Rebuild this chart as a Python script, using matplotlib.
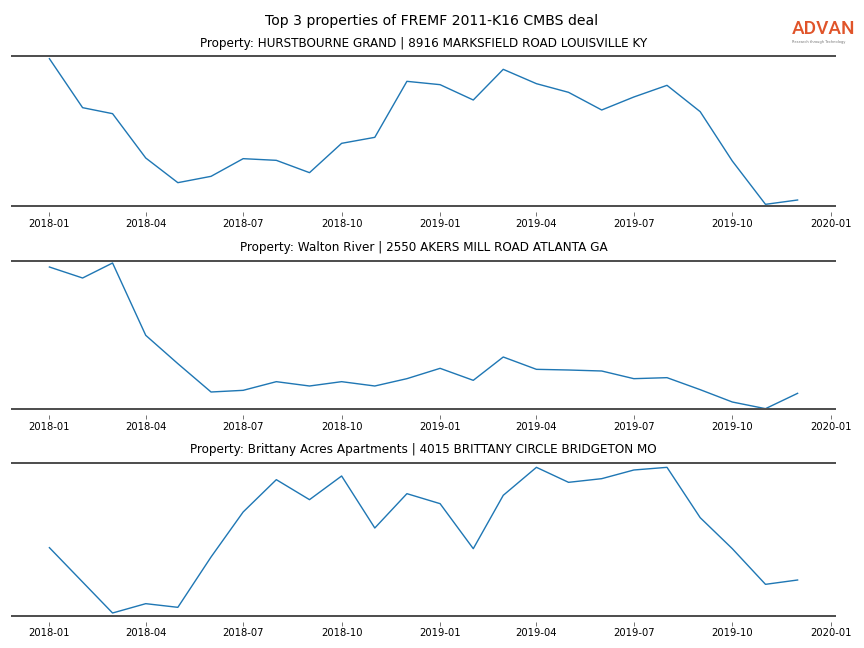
import numpy as np
import pandas as pd
import matplotlib
matplotlib.use('Agg')
import matplotlib.pyplot as plt
import matplotlib.dates as mdates

# monthly foot traffic index per property
months = pd.date_range('2018-01-01', '2019-12-01', freq='MS')

titles = [
    'Property: HURSTBOURNE GRAND | 8916 MARKSFIELD ROAD LOUISVILLE KY',
    'Property: Walton River | 2550 AKERS MILL ROAD ATLANTA GA',
    'Property: Brittany Acres Apartments | 4015 BRITTANY CIRCLE BRIDGETON MO',
]

hurstbourne = [442, 295, 277, 144, 70, 89, 142, 137, 100, 188, 206, 374,
               364, 318, 410, 367, 341, 288, 327, 362, 283, 135, 5, 18]
walton = [426, 393, 438, 221, 136, 51, 56, 82, 69, 82, 69, 91,
          122, 86, 156, 119, 117, 114, 91, 94, 58, 21, 1, 47]
brittany = [205, 102, 9, 37, 26, 177, 312, 409, 349, 420, 264, 367,
            337, 202, 362, 446, 401, 412, 438, 446, 295, 202, 95, 108]

series = [hurstbourne, walton, brittany]
ylims = [(0, 450), (0, 444), (0, 459)]

W, H = 864, 648
# panel top/bottom in pixels
rows = [(56, 206), (261, 409), (463, 616)]

fig = plt.figure(figsize=(12, 9), dpi=72)
fig.suptitle('Top 3 properties of FREMF 2011-K16 CMBS deal', fontsize=14, y=0.979)

for (top, bot), vals, title, yl in zip(rows, series, titles, ylims):
    ax = fig.add_axes([12 / W, 1 - bot / H, (835 - 12) / W, (bot - top) / H])
    ax.plot(months, vals, color='#1f77b4', lw=1.4)
    ax.set_ylim(*yl)
    ax.margins(x=0.05)
    ax.set_title(title, fontsize=12, pad=9.5)
    # only top/bottom rules, ticks sit a little below the rule
    for s in ['left', 'right', 'top']:
        ax.spines[s].set_visible(False)
    ax.spines['bottom'].set_position(('outward', 6))
    ax.spines['bottom'].set_visible(False)
    ax.axhline(yl[0], color='#505050', lw=2, clip_on=False)
    ax.axhline(yl[1], color='#505050', lw=2, clip_on=False)
    ax.set_yticks([])
    ax.xaxis.set_major_locator(mdates.MonthLocator(bymonth=[1, 4, 7, 10]))
    ax.xaxis.set_major_formatter(mdates.DateFormatter('%Y-%m'))
    ax.tick_params(axis='x', length=3.5, width=0.8, color='#555555', labelsize=10, pad=3)

# logo
fig.text(0.9165, 0.9475, 'ADVAN', family='Roboto', fontweight='medium', fontsize=19,
         color='#e0542a', ha='left', va='baseline')
fig.text(0.9165, 0.9385, 'Research through Technology', fontsize=3.6, color='#777777',
         ha='left', va='top')

fig.savefig('out.png', dpi=72)
